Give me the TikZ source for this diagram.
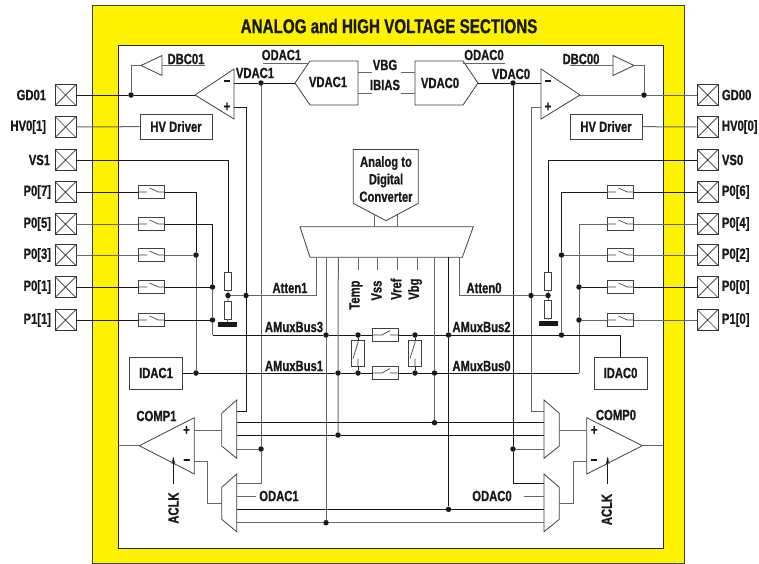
\documentclass[tikz,border=0pt]{standalone}
\usepackage{fontspec}
\setmainfont[FakeStretch=0.76,BoldFeatures={FakeBold=0.8}]{Liberation Sans}
\definecolor{sectyellow}{HTML}{FFF200}
\begin{document}
\begin{tikzpicture}[x=1pt,y=-1pt,font=\bfseries\fontsize{14.8}{17.5}\selectfont,text=black!90]
            \tikzset{pad/.style 2 args={draw=black!80, line width=0.8, minimum size=21, inner sep=0, label distance=5, label={#1:{#2}},
                path picture={\draw[line width=0.7] (path picture bounding box.north west)--(path picture bounding box.south east) (path picture bounding box.north east)--(path picture bounding box.south west);}}};
            \tikzset{wire/.style={draw=black!90, line width=0.75}};
            \tikzset{wireg/.style={draw=black!60, line width=1}};
            \tikzset{outline/.style={draw=black!75, line width=0.8}};
            \tikzset{dot/.style={circle, fill=black!90, inner sep=0, minimum size=5.5}};
            \tikzset{res/.style={draw=black!75, fill=white, line width=0.8, minimum width=7, minimum height=18, inner sep=0}};
            \tikzset{gnd/.style={fill=black!90, minimum width=19, minimum height=5, inner sep=0}};
            \tikzset{block/.style={draw=black!75, line width=0.8, inner sep=0}};
            \tikzset{swbox/.style={draw=black!75, line width=0.8, inner sep=0}};
            \tikzset{swl/.style={swbox, minimum width=26, minimum height=13, path picture={\draw[line width=0.7]
                (path picture bounding box.west)--++(8.5pt,0pt) ([xshift=-2pt,yshift=4pt]path picture bounding box.center)--([xshift=7pt]path picture bounding box.center)--(path picture bounding box.east);}}};
            \tikzset{swm/.style={swbox, minimum width=26, minimum height=13, path picture={\draw[line width=0.7]
                (path picture bounding box.west)--([xshift=-3pt]path picture bounding box.center)--([xshift=5pt,yshift=4.5pt]path picture bounding box.center) ([xshift=5pt]path picture bounding box.center)--(path picture bounding box.east);}}};
            \tikzset{swv/.style={swbox, minimum width=13, minimum height=26, path picture={\draw[line width=0.7]
                (path picture bounding box.north)--++(0pt,-2pt)--([xshift=-5pt,yshift=-5pt]path picture bounding box.center) ([yshift=-5pt]path picture bounding box.center)--(path picture bounding box.south);}}};

            \useasboundingbox (0,0) rectangle (759,563);
            \draw[fill=sectyellow, draw=black!75, line width=0.8] (92.5,5.5) rectangle (684,563);
            \draw[fill=white, draw=black!85, line width=0.8] (118,45.5) rectangle (663,548);
            \node[font=\bfseries\fontsize{20}{22}\selectfont] (title) at (389,26) {ANALOG and HIGH VOLTAGE SECTIONS};

            \node[pad={[xshift=-5pt]left}{GD01}] (g1) at (65.5,95) {};
            \node[pad={[xshift=-5pt]left}{HV0[1]}] (h1) at (65.5,127) {};
            \node[pad={[xshift=-1pt]left}{VS1}] (v1) at (65.5,160) {};
            \node[pad={left}{P0[7]}] (p7) at (65.5,192) {};
            \node[pad={left}{P0[5]}] (p5) at (65.5,224) {};
            \node[pad={left}{P0[3]}] (p3) at (65.5,255) {};
            \node[pad={left}{P0[1]}] (p1) at (65.5,287) {};
            \node[pad={left}{P1[1]}] (q1) at (65.5,320) {};
            \node[pad={right}{GD00}] (g0) at (707.5,95) {};
            \node[pad={right}{HV0[0]}] (h0) at (707.5,127) {};
            \node[pad={right}{VS0}] (v0) at (707.5,160) {};
            \node[pad={right}{P0[6]}] (p6) at (707.5,192) {};
            \node[pad={right}{P0[4]}] (p4) at (707.5,224) {};
            \node[pad={right}{P0[2]}] (p2) at (707.5,255) {};
            \node[pad={right}{P0[0]}] (p0) at (707.5,287) {};
            \node[pad={right}{P1[0]}] (q0) at (707.5,320) {};

            \node[swl] (s7) at (151.5,192) {};
            \node[swl] (s5) at (151.5,224) {};
            \node[swl] (s3) at (151.5,255) {};
            \node[swl] (s1) at (151.5,287) {};
            \node[swl] (r1) at (151.5,320) {};
            \node[swl] (s6) at (620.5,192) {};
            \node[swl] (s4) at (620.5,224) {};
            \node[swl] (s2) at (620.5,255) {};
            \node[swl] (s0) at (620.5,287) {};
            \node[swl] (r0) at (620.5,320) {};
            \node[swm] (su) at (385,335) {};
            \node[swm] (sl) at (385,373) {};
            \node[swv] (sa) at (358,353.5) {};
            \node[swv] (sb) at (415,353.5) {};

            \node[block, minimum width=72, minimum height=25] (hv1) at (176,126.5) {HV Driver};
            \node[block, minimum width=72, minimum height=25] (hv0) at (606,126.5) {HV Driver};
            \node[block, minimum width=53, minimum height=32] (id1) at (156,373) {IDAC1};
            \node[block, minimum width=53, minimum height=32] (id0) at (620.5,373) {IDAC0};

            \node[res] (r1a) at (228,281) {};
            \node[res] (r1b) at (228,310) {};
            \node[gnd] (gnd1) at (227.5,324.5) {};
            \node[res] (r0a) at (548,281) {};
            \node[res] (r0b) at (548,309) {};
            \node[gnd] (gnd0) at (548,323) {};

            \node[dot] (d131) at (131,95) {};
            \node[dot] (d644) at (644,95) {};
            \node[dot] (d261a) at (261,83) {};
            \node[dot] (d513a) at (513,83) {};
            \node[dot] (d261b) at (261,449) {};
            \node[dot] (d513b) at (513,449) {};
            \node[dot] (da1) at (228,295.5) {};
            \node[dot] (da0) at (548,295.5) {};
            \node[dot] (d246) at (246,295.5) {};
            \node[dot] (d531) at (531,295.5) {};
            \node[dot] (l196a) at (196,255) {};
            \node[dot] (l196b) at (196,373) {};
            \node[dot] (l212a) at (212.5,287) {};
            \node[dot] (l212b) at (212.5,320) {};
            \node[dot] (r561a) at (561.5,255) {};
            \node[dot] (r561b) at (561.5,335) {};
            \node[dot] (r579a) at (579,287) {};
            \node[dot] (r579b) at (579,320) {};
            \node[dot] (d326) at (326,335) {};
            \node[dot] (d358t) at (358,335) {};
            \node[dot] (d415t) at (415,335) {};
            \node[dot] (d448) at (448.5,335) {};
            \node[dot] (d338) at (338,373) {};
            \node[dot] (d358b) at (358,373) {};
            \node[dot] (d415b) at (415,373) {};
            \node[dot] (d434) at (434.5,373) {};
            \node[dot] (d338b) at (338,435) {};
            \node[dot] (d434b) at (434.5,422.7) {};
            \node[dot] (d448b) at (448.5,509.3) {};
            \node[dot] (d326b) at (326,522.7) {};

            \coordinate (amp1m) at (234,83);
            \coordinate (amp1p) at (234,107);
            \coordinate (amp1o) at (195,95);
            \coordinate (amp0m) at (541,83);
            \coordinate (amp0p) at (541,107);
            \coordinate (amp0o) at (580,95);
            \coordinate (hex1) at (295,83);
            \coordinate (hex0) at (478,83);
            \coordinate (dbc1i) at (162,65.5);
            \coordinate (dbc1o) at (141,65.5);
            \coordinate (dbc1e) at (205,65.5);
            \coordinate (dbc0i) at (613,65.5);
            \coordinate (dbc0o) at (634,65.5);
            \coordinate (dbc0e) at (570,65.5);
            \coordinate (o1a) at (263,63);
            \coordinate (o1b) at (309,63);
            \coordinate (o0a) at (463,63);
            \coordinate (o0b) at (505,63);
            \coordinate (vb1a) at (358,72);
            \coordinate (vb1b) at (372,72);
            \coordinate (ib1a) at (358,93);
            \coordinate (ib1b) at (372,93);
            \coordinate (vb0a) at (415,72);
            \coordinate (vb0b) at (401,72);
            \coordinate (ib0a) at (415,93);
            \coordinate (ib0b) at (401,93);
            \coordinate (ab3) at (212.5,335);
            \coordinate (ab2) at (620.5,335);
            \coordinate (ab0) at (579,373);
            \coordinate (t326) at (326,257.3);
            \coordinate (t338) at (338.3,257.3);
            \coordinate (t316) at (316,257.3);
            \coordinate (t434) at (434.5,257.3);
            \coordinate (t448) at (448.5,257.3);
            \coordinate (t459) at (459,257.3);
            \coordinate (a1s) at (374,214.3);
            \coordinate (a1e) at (374,226.7);
            \coordinate (a2s) at (397,214.8);
            \coordinate (a2e) at (397,226.7);
            \coordinate (mt) at (358,257.3);
            \coordinate (mte) at (358,270);
            \coordinate (ms) at (377.7,257.3);
            \coordinate (mse) at (377.7,270);
            \coordinate (mr) at (397,257.3);
            \coordinate (mre) at (397,270);
            \coordinate (mb) at (417,257.3);
            \coordinate (mbe) at (417,270);
            \coordinate (c246) at (246,411);
            \coordinate (c531) at (531,411);
            \coordinate (lu1) at (237,411);
            \coordinate (lu2) at (237,422.7);
            \coordinate (lu3) at (237,435);
            \coordinate (lu4) at (237,449);
            \coordinate (ll1) at (237,483);
            \coordinate (ll2) at (237,496);
            \coordinate (ll3) at (237,509.3);
            \coordinate (ll4) at (237,522.7);
            \coordinate (ru1) at (544,411);
            \coordinate (ru2) at (544,422.7);
            \coordinate (ru3) at (544,435);
            \coordinate (ru4) at (544,449);
            \coordinate (rl1) at (544,483);
            \coordinate (rl2) at (544,496);
            \coordinate (rl3) at (544,509.3);
            \coordinate (rl4) at (544,522.7);
            \coordinate (c261) at (261,483);
            \coordinate (c513) at (513,483);
            \coordinate (od1) at (256,496);
            \coordinate (od0) at (524.3,496);
            \coordinate (lo1) at (221.7,430.7);
            \coordinate (lo2) at (221.7,503.3);
            \coordinate (ro1) at (559.3,430.7);
            \coordinate (ro2) at (559.3,503.3);
            \coordinate (cp1p) at (194.3,430.7);
            \coordinate (cp1m) at (194.3,461.7);
            \coordinate (cp1o) at (139.3,445.7);
            \coordinate (cp1e) at (118,445.7);
            \coordinate (cp0p) at (586.7,430.7);
            \coordinate (cp0m) at (586.7,461.7);
            \coordinate (cp0o) at (642.3,445.7);
            \coordinate (cp0e) at (663,445.7);
            \coordinate (ck1) at (173.3,484);
            \coordinate (ck1e) at (173.3,458);
            \coordinate (ck0) at (607.7,484);
            \coordinate (ck0e) at (607.7,458);

            \draw[outline] (amp1o)--(234,69)--(234,119)--cycle;
            \draw[outline] (amp0o)--(541,69)--(541,119)--cycle;
            \draw[outline] (dbc1o)--(162,55.5)--(162,75.5)--cycle;
            \draw[outline] (dbc0o)--(613,55.5)--(613,75.5)--cycle;
            \draw[outline] (hex1)--(310,61)--(358,61)--(358,105)--(310,105)--cycle;
            \draw[outline] (hex0)--(463,61)--(415,61)--(415,105)--(463,105)--cycle;
            \draw[outline] (353.3,149.5)--(418.3,149.5)--(418.3,203.3)--(386,220.7)--(353.3,203.3)--cycle;
            \draw[outline] (300,226.7)--(473.3,226.7)--(462.3,257.3)--(310,257.3)--cycle;
            \draw[outline] (221.7,413.3)--(236.7,400)--(236.7,458.3)--(221.7,446)--cycle;
            \draw[outline] (221.7,487.3)--(236.7,474)--(236.7,531.7)--(221.7,519.3)--cycle;
            \draw[outline] (544,400)--(559.3,413.3)--(559.3,446)--(544,458.3)--cycle;
            \draw[outline] (544,474)--(559.3,487.3)--(559.3,519.3)--(544,531.7)--cycle;
            \draw[outline] (cp1o)--(194.3,417.7)--(194.3,474)--cycle;
            \draw[outline] (cp0o)--(586.7,417.7)--(586.7,474)--cycle;
            \draw[outline] (171.8,464)--(ck1e)--(174.8,464);
            \draw[outline] (606.2,464)--(ck0e)--(609.2,464);

            \draw[wire] (g1)--(d131)--(amp1o);
            \draw[wireg] (dbc1o)-|(d131);
            \draw[wireg] (dbc1i)--(dbc1e);
            \draw[wireg] (h1)--(hv1);
            \draw[wire] (amp1m)--(d261a)--(hex1);
            \draw[wireg] (d261a)--(d261b)--(c261)--(ll1);
            \draw[wireg] (d261b)--(lu4);
            \draw[wire] (amp1p)-|(d246);
            \draw[wire] (d246)--(c246)--(lu1);
            \draw[wireg] (o1a)--(o1b);
            \draw[wireg] (vb1a)--(vb1b);
            \draw[wireg] (ib1a)--(ib1b);
            \draw[wireg] (vb0a)--(vb0b);
            \draw[wireg] (ib0a)--(ib0b);
            \draw[wireg] (o0a)--(o0b);
            \draw[wire] (hex0)--(d513a)--(amp0m);
            \draw[wire] (d513a)--(d513b)--(c513)--(rl1);
            \draw[wireg] (d513b)--(ru4);
            \draw[wireg] (amp0p)-|(d531);
            \draw[wireg] (d531)--(c531)--(ru1);
            \draw[wireg] (amp0o)--(d644)--(g0);
            \draw[wireg] (dbc0o)-|(d644);
            \draw[wireg] (dbc0e)--(dbc0i);
            \draw[wireg] (hv0)--(h0);

            \draw[wire] (v1)-|(r1a);
            \draw[wireg] (r1a)--(da1)--(r1b)--(gnd1);
            \draw[wireg] (da1)--(d246)-|(t316);
            \draw[wire] (v0)-|(r0a);
            \draw[wireg] (r0a)--(da0)--(r0b)--(gnd0);
            \draw[wireg] (da0)--(d531)-|(t459);

            \draw[wire] (p7)--(s7);
            \draw[wire] (s7)-|(l196a);
            \draw[wireg] (l196a)--(l196b);
            \draw[wireg] (p5)--(s5);
            \draw[wire] (s5)-|(l212a);
            \draw[wireg] (p3)--(s3)--(l196a);
            \draw[wire] (p1)--(s1)--(l212a);
            \draw[wireg] (l212a)--(l212b);
            \draw[wire] (q1)--(r1)--(l212b);
            \draw[wireg] (l212b)--(ab3);

            \draw[wire] (p6)--(s6);
            \draw[wire] (s6)-|(r561a);
            \draw[wireg] (r561a)--(r561b);
            \draw[wireg] (p4)--(s4);
            \draw[wireg] (s4)-|(r579a);
            \draw[wireg] (p2)--(s2)--(r561a);
            \draw[wire] (p0)--(s0)--(r579a);
            \draw[wireg] (r579a)--(r579b)--(ab0);
            \draw[wireg] (q0)--(r0)--(r579b);

            \draw[wire] (ab3)--(d326)--(d358t)--(su)--(d415t)--(d448)--(r561b)--(ab2)--(id0);
            \draw[wire] (id1)--(l196b)--(d338)--(d358b)--(sl)--(d415b)--(d434)--(ab0);
            \draw[wire] (d358t)--(sa)--(d358b);
            \draw[wire] (d415t)--(sb)--(d415b);

            \draw[wireg] (t326)--(d326)--(d326b);
            \draw[wireg] (t338)--(d338)--(d338b);
            \draw[wireg] (t434)--(d434)--(d434b);
            \draw[wire] (t448)--(d448)--(d448b);
            \draw[wireg] (a1s)--(a1e);
            \draw[wireg] (a2s)--(a2e);
            \draw[wireg] (mt)--(mte);
            \draw[wireg] (ms)--(mse);
            \draw[wireg] (mr)--(mre);
            \draw[wireg] (mb)--(mbe);

            \draw[wire] (lu2)--(d434b)--(ru2);
            \draw[wire] (lu3)--(d338b)--(ru3);
            \draw[wire] (ll3)--(d448b)--(rl3);
            \draw[wireg] (ll4)--(d326b)--(rl4);
            \draw[wireg] (ll2)--(od1);
            \draw[wireg] (rl2)--(od0);

            \draw[wireg] (lo1)--(cp1p);
            \draw[wireg] (cp1m)-|(207.7,503.3)--(lo2);
            \draw[wireg] (cp1o)--(cp1e);
            \draw[wireg] (ro1)--(cp0p);
            \draw[wireg] (cp0m)-|(573.3,503.3)--(ro2);
            \draw[wireg] (cp0o)--(cp0e);
            \draw[wire] (ck1)--(ck1e);
            \draw[wire] (ck0)--(ck0e);

            \node (ldbc1) at (186,59) {DBC01};
            \node (ldbc0) at (581,59) {DBC00};
            \node (lvd1) at (255,73) {VDAC1};
            \node (lvd0) at (511,74) {VDAC0};
            \node (lod1) at (281.5,55) {ODAC1};
            \node (lod0) at (484,55) {ODAC0};
            \node (lhx1) at (328,82) {VDAC1};
            \node (lhx0) at (440,83) {VDAC0};
            \node (lvbg) at (385,65) {VBG};
            \node (libi) at (385,85) {IBIAS};
            \node (ladc) at (386,179) [align=center] {Analog to\\Digital\\Converter};
            \node (lat1) at (290,288) {Atten1};
            \node (lat0) at (484,288) {Atten0};
            \node (lam3) at (294,327) {AMuxBus3};
            \node (lam1) at (294,366) {AMuxBus1};
            \node (lam2) at (481.5,327) {AMuxBus2};
            \node (lam0) at (481.5,366) {AMuxBus0};
            \node (ltmp) at (356,277) [rotate=90, anchor=east] {Temp};
            \node (lvss) at (376.5,277) [rotate=90, anchor=east] {Vss};
            \node (lvrf) at (396,275) [rotate=90, anchor=east] {Vref};
            \node (lvbr) at (415,275) [rotate=90, anchor=east] {Vbg};
            \node (lamp1m) at (227,83) {−};
            \node (lamp1p) at (227,107) {+};
            \node (lamp0m) at (548,83) {−};
            \node (lamp0p) at (548,107) {+};
            \node (lcp1) at (156.5,416) {COMP1};
            \node (lcp0) at (616,415) {COMP0};
            \node (lcp1p) at (186.5,430.5) {+};
            \node (lcp1m) at (186.7,462) {−};
            \node (lcp0p) at (594.3,430.5) {+};
            \node (lcp0m) at (594,462) {−};
            \node (lck1) at (173.5,508) [rotate=90] {ACLK};
            \node (lck0) at (606.7,509.5) [rotate=90] {ACLK};
            \node (lod1b) at (279,496) {ODAC1};
            \node (lod0b) at (492,496) {ODAC0};
        \end{tikzpicture}
\end{document}
